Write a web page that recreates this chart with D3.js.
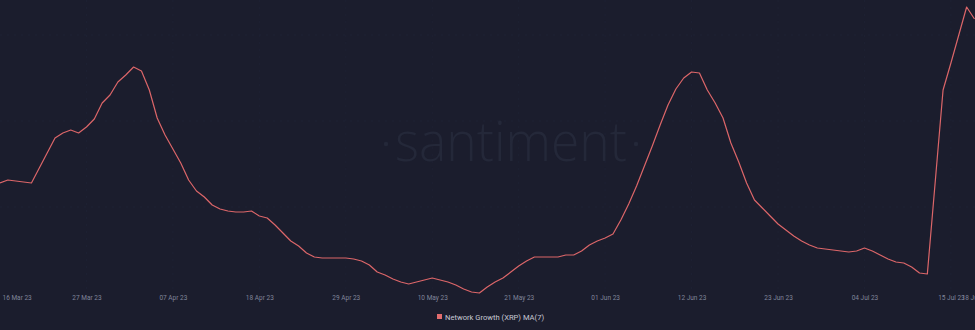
<!DOCTYPE html>
<html>
<head>
<meta charset="utf-8">
<script src="https://cdn.jsdelivr.net/npm/d3@7"></script>
<style>
  html, body { margin: 0; padding: 0; background: #1b1d2d; }
  svg { display: block; }
</style>
</head>
<body>
<div id="chart"></div>
<script>
const startDate = "2023-03-16";
const seriesName = "Network Growth (XRP) MA(7)";
const networkGrowth = [
  3340, 3400, 3380, 3360, 3340, 3640, 3940, 4240, 4340, 4400,
  4340, 4460, 4620, 4940, 5100, 5360, 5500, 5660, 5580, 5200,
  4640, 4300, 4020, 3740, 3400, 3180, 3060, 2900, 2820, 2780,
  2760, 2760, 2780, 2680, 2640, 2500, 2340, 2180, 2080, 1940,
  1860, 1840, 1840, 1840, 1840, 1820, 1780, 1700, 1560, 1500,
  1420, 1360, 1320, 1360, 1400, 1440, 1400, 1360, 1300, 1220,
  1160, 1140, 1260, 1360, 1440, 1560, 1680, 1780, 1860, 1860,
  1860, 1860, 1900, 1900, 1980, 2100, 2180, 2240, 2320, 2600,
  2920, 3280, 3680, 4080, 4500, 4900, 5220, 5440, 5560, 5540,
  5200, 4940, 4640, 4140, 3760, 3340, 3000, 2840, 2680, 2520,
  2400, 2280, 2180, 2100, 2040, 2020, 2000, 1980, 1960, 1980,
  2040, 1980, 1900, 1820, 1760, 1740, 1660, 1540, 1520, 3360,
  5200, 5740, 6300, 6860, 6620
];
const tickLabels = ["2023-03-16", "2023-03-27", "2023-04-07", "2023-04-18", "2023-04-29",
  "2023-05-10", "2023-05-21", "2023-06-01", "2023-06-12", "2023-06-23",
  "2023-07-04", "2023-07-15", "2023-07-18"];
const gridValues = [6300, 4580, 2860];

const W = 975, H = 330;
const parse = d3.utcParse("%Y-%m-%d");
const t0 = parse(startDate);
const data = networkGrowth.map((v, i) => ({date: d3.utcDay.offset(t0, i), value: v}));

const svg = d3.select("#chart").append("svg")
  .attr("width", W).attr("height", H);

svg.append("rect").attr("width", W).attr("height", H).attr("fill", "#1b1d2d");

const x = d3.scaleUtc()
  .domain(d3.extent(data, d => d.date))
  .range([0, 974.5]);

const y = d3.scaleLinear()
  .domain([1000, 7000])
  .range([300, 0]);

// faint grid
svg.append("g")
  .selectAll("line")
  .data(gridValues)
  .join("line")
  .attr("x1", 0).attr("x2", W)
  .attr("y1", d => y(d)).attr("y2", d => y(d))
  .attr("stroke", "#1f2234")
  .attr("stroke-dasharray", "2,5");

svg.append("g")
  .selectAll("line")
  .data(tickLabels.slice(1, -1).map(parse))
  .join("line")
  .attr("x1", d => x(d)).attr("x2", d => x(d))
  .attr("y1", 0).attr("y2", 290)
  .attr("stroke", "#1e2133")
  .attr("stroke-dasharray", "2,5");

// watermark
const wm = svg.append("g").attr("fill", "#242839");
wm.append("text")
  .attr("x", 511).attr("y", 161)
  .attr("text-anchor", "middle")
  .attr("font-family", "'Open Sans', sans-serif")
  .attr("font-weight", 300)
  .attr("font-size", 56)
  .attr("textLength", 232)
  .attr("lengthAdjust", "spacingAndGlyphs")
  .text("santiment");
wm.append("circle").attr("cx", 386).attr("cy", 144).attr("r", 2.2);
wm.append("circle").attr("cx", 636).attr("cy", 144).attr("r", 2.2);

// x axis
const xAxis = svg.append("g")
  .attr("transform", "translate(0,293)")
  .call(d3.axisBottom(x)
    .tickValues(tickLabels.map(parse))
    .tickFormat(d3.utcFormat("%d %b %y"))
    .tickSize(0)
    .tickPadding(2));
xAxis.select(".domain").remove();
xAxis.selectAll("text")
  .attr("fill", "#80859a")
  .attr("font-family", "Roboto, sans-serif")
  .attr("font-size", 6.5);
xAxis.select(".tick:first-of-type text")
  .attr("text-anchor", "start")
  .attr("dx", 2);

// line
const line = d3.line()
  .x(d => x(d.date))
  .y(d => y(d.value));

svg.append("path")
  .datum(data)
  .attr("fill", "none")
  .attr("stroke", "#dc6669")
  .attr("stroke-width", 1.2)
  .attr("stroke-linejoin", "round")
  .attr("d", line);

// legend
const legend = svg.append("g").attr("transform", "translate(437,317)");
legend.append("rect")
  .attr("x", 0).attr("y", -3).attr("width", 5).attr("height", 5)
  .attr("fill", "#e26c6e");
legend.append("text")
  .attr("x", 8).attr("y", 2.5)
  .attr("fill", "#c6c8d4")
  .attr("font-family", "Roboto, sans-serif")
  .attr("font-size", 7.6)
  .text(seriesName);
</script>
</body>
</html>
